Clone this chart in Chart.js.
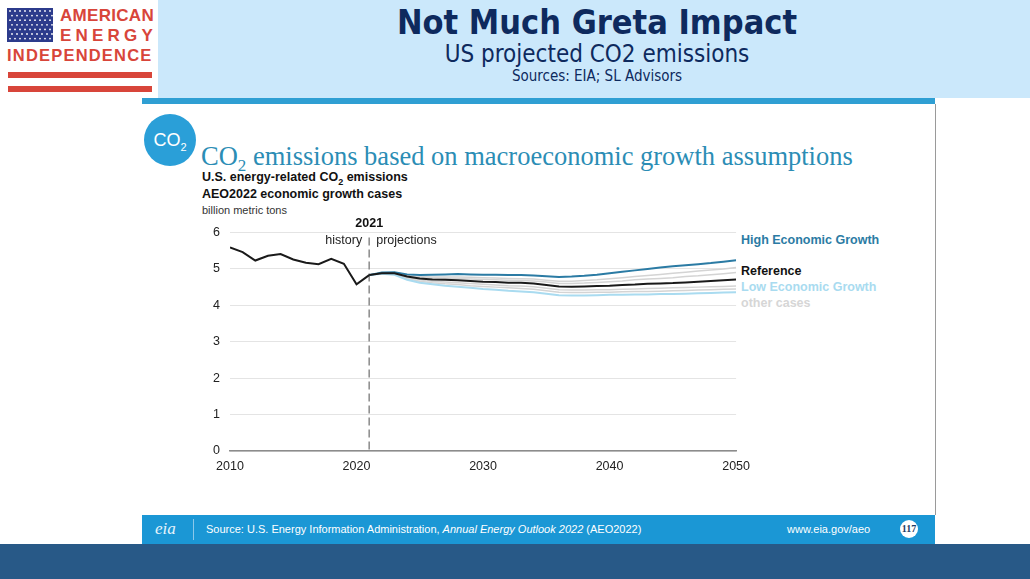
<!DOCTYPE html>
<html>
<head>
<meta charset="utf-8">
<script src="https://cdn.jsdelivr.net/npm/chart.js@4"></script>
<style>
  body { margin:0; width:1030px; height:579px; overflow:hidden; position:relative; background:#fff; font-family:"Liberation Sans", Arial, sans-serif; }
  .abs { position:absolute; white-space:nowrap; }
  #header { left:158px; top:0; width:872px; height:98px; background:#cbe8fb; }
  #bar { left:142px; top:98px; width:793px; height:6px; background:#2f9fd3; }
  #edge { left:935px; top:104px; width:1px; height:411px; background:#9a9a9a; }
  #foot { left:142px; top:515px; width:793px; height:29px; background:#1b97d5; }
  #bottom { left:0; top:544px; width:1030px; height:35px; background:#285987; }
  .hd { font-family:"DejaVu Sans Condensed","DejaVu Sans",sans-serif; font-stretch:condensed; color:#0e2a5e; text-align:center; left:158px; width:878px; }
  .logo { color:#d8453a; font-weight:bold; font-family:"Liberation Sans",Arial,sans-serif; }
  .stripe { left:8px; width:144px; height:6px; background:#d8453a; }
  .lab { font-weight:bold; font-size:12.5px; }
</style>
</head>
<body>
<div class="abs" id="header"></div>
<div class="abs" id="bar"></div>
<div class="abs" id="edge"></div>
<div class="abs" id="foot"></div>
<div class="abs" id="bottom"></div>

<!-- logo -->
<svg class="abs" style="left:7px;top:8px" width="46" height="34">
  <rect width="46" height="34" fill="#2c3b8c"/>
  <g fill="#fff" id="stars"></g>
</svg>
<div class="abs logo" style="left:60px;top:6px;font-size:17px;letter-spacing:0.3px">AMERICAN</div>
<div class="abs logo" style="left:60px;top:26px;font-size:17px;letter-spacing:4.2px">ENERGY</div>
<div class="abs logo" style="left:7px;top:46px;font-size:16.5px;letter-spacing:1.2px">INDEPENDENCE</div>
<div class="abs stripe" style="top:72px"></div>
<div class="abs stripe" style="top:86px"></div>

<!-- header titles -->
<div class="abs hd" style="top:2px;font-size:34px;font-weight:bold">Not Much Greta Impact</div>
<div class="abs hd" style="top:40px;font-size:24px">US projected CO2 emissions</div>
<div class="abs hd" style="top:67px;font-size:15px">Sources: EIA; SL Advisors</div>

<!-- slide heading -->
<div class="abs" style="left:144px;top:114px;width:52px;height:52px;border-radius:50%;background:#2a9fd8;color:#fff;font-size:18px;line-height:52px;text-align:center">CO<sub style="font-size:11px">2</sub></div>
<div class="abs" style="left:201px;top:141px;font-family:'Liberation Serif','Times New Roman',serif;font-size:26.5px;color:#2b8db5">CO<sub style="font-size:17px">2</sub> emissions based on macroeconomic growth assumptions</div>
<div class="abs" style="left:202px;top:170px;font-size:12.5px;font-weight:bold;color:#111">U.S. energy-related CO<sub style="font-size:9px">2</sub> emissions</div>
<div class="abs" style="left:202px;top:187px;font-size:12.5px;font-weight:bold;color:#111">AEO2022 economic growth cases</div>
<div class="abs" style="left:202px;top:204px;font-size:11px;color:#333">billion metric tons</div>

<!-- series labels -->
<div class="abs lab" style="left:741px;top:233px;color:#2b7ba4">High Economic Growth</div>
<div class="abs lab" style="left:741px;top:264px;color:#111">Reference</div>
<div class="abs lab" style="left:741px;top:280px;color:#a9dbf0">Low Economic Growth</div>
<div class="abs lab" style="left:741px;top:296px;color:#d6d6d6">other cases</div>

<!-- footer -->
<div class="abs" style="left:155px;top:519px;font-family:'Liberation Serif',serif;font-size:17px;color:#e6f3fb;font-style:italic">eia</div>
<div class="abs" style="left:193px;top:519px;width:1px;height:21px;background:#8cc8ea"></div>
<div class="abs" style="left:206px;top:523px;font-size:11px;color:#fff">Source: U.S. Energy Information Administration, <i>Annual Energy Outlook 2022</i> (AEO2022)</div>
<div class="abs" style="left:787px;top:523px;font-size:11px;color:#fff">www.eia.gov/aeo</div>
<div class="abs" style="left:900px;top:520px;width:18px;height:18px;border-radius:50%;background:#fff;color:#1d3c66;font-family:'Liberation Serif',serif;font-weight:bold;font-size:10px;line-height:18px;text-align:center">117</div>

<div class="abs" style="left:190px;top:215px;width:568px;height:270px">
  <canvas id="co2"></canvas>
</div>

<script>
// stars on the logo flag
(function () {
  var g = document.getElementById('stars'), s = '';
  for (var r = 0; r < 7; r++) for (var c = 0; c < 9; c++)
    s += '<circle cx="' + (3 + c * 5 + (r % 2) * 2) + '" cy="' + (3 + r * 4.6) + '" r="0.9"/>';
  g.innerHTML = s;
})();

const histYears = [2010, 2011, 2012, 2013, 2014, 2015, 2016, 2017, 2018, 2019, 2020, 2021];
const history = [5.59, 5.46, 5.23, 5.36, 5.41, 5.26, 5.17, 5.13, 5.28, 5.14, 4.58, 4.83];

const projYears = [2021, 2022, 2023, 2024, 2025, 2026, 2027, 2028, 2029, 2030,
                   2031, 2032, 2033, 2034, 2035, 2036, 2037, 2038, 2039, 2040,
                   2041, 2042, 2043, 2044, 2045, 2046, 2047, 2048, 2049, 2050];
const reference = [4.83, 4.88, 4.88, 4.79, 4.74, 4.71, 4.70, 4.69, 4.67, 4.65,
                   4.64, 4.62, 4.62, 4.60, 4.56, 4.52, 4.51, 4.52, 4.53, 4.54,
                   4.56, 4.57, 4.59, 4.60, 4.61, 4.63, 4.65, 4.67, 4.69, 4.71];
const highGrowth = [4.83, 4.90, 4.91, 4.85, 4.83, 4.84, 4.85, 4.86, 4.85, 4.84,
                    4.84, 4.83, 4.83, 4.82, 4.80, 4.78, 4.79, 4.81, 4.84, 4.88,
                    4.92, 4.96, 5.00, 5.04, 5.07, 5.10, 5.13, 5.16, 5.20, 5.24];
const lowGrowth = [4.83, 4.87, 4.84, 4.70, 4.62, 4.58, 4.54, 4.51, 4.48, 4.45,
                   4.43, 4.40, 4.38, 4.36, 4.32, 4.28, 4.27, 4.27, 4.28, 4.29,
                   4.29, 4.30, 4.30, 4.31, 4.31, 4.32, 4.33, 4.34, 4.35, 4.36];
const otherA = [4.83, 4.89, 4.90, 4.83, 4.79, 4.78, 4.78, 4.78, 4.77, 4.76,
                4.75, 4.74, 4.73, 4.72, 4.69, 4.66, 4.66, 4.68, 4.70, 4.73,
                4.76, 4.79, 4.82, 4.85, 4.88, 4.91, 4.94, 4.97, 5.00, 5.04];
const otherB = [4.83, 4.89, 4.89, 4.81, 4.77, 4.75, 4.74, 4.73, 4.72, 4.71,
                4.70, 4.69, 4.68, 4.67, 4.64, 4.60, 4.60, 4.61, 4.63, 4.65,
                4.67, 4.70, 4.72, 4.74, 4.76, 4.79, 4.81, 4.84, 4.87, 4.90];
const otherC = [4.83, 4.87, 4.86, 4.76, 4.70, 4.66, 4.64, 4.62, 4.60, 4.58,
                4.56, 4.54, 4.53, 4.51, 4.47, 4.43, 4.42, 4.42, 4.43, 4.43,
                4.44, 4.45, 4.46, 4.47, 4.48, 4.49, 4.50, 4.51, 4.52, 4.53];
const otherD = [4.83, 4.87, 4.85, 4.73, 4.66, 4.62, 4.59, 4.57, 4.54, 4.52,
                4.50, 4.48, 4.46, 4.44, 4.40, 4.36, 4.35, 4.35, 4.36, 4.36,
                4.37, 4.38, 4.38, 4.39, 4.40, 4.41, 4.42, 4.43, 4.44, 4.45];

const xTicks = [2010, 2020, 2030, 2040, 2050];
const splitYear = 2021;

function pts(xs, ys) { return xs.map((x, i) => ({ x: x, y: ys[i] })); }

function line(data, color, width, order) {
  return { data: data, borderColor: color, borderWidth: width, pointRadius: 0,
           fill: false, tension: 0, order: order };
}

const splitPlugin = {
  id: 'split',
  beforeDatasetsDraw(chart) {
    const ctx = chart.ctx, a = chart.chartArea;
    const x = chart.scales.x.getPixelForValue(splitYear);
    ctx.save();
    ctx.strokeStyle = '#8a8a8a';
    ctx.lineWidth = 1.5;
    ctx.setLineDash([8, 4]);
    ctx.beginPath();
    ctx.moveTo(x, a.top + 5);
    ctx.lineTo(x, a.bottom);
    ctx.stroke();
    ctx.restore();
  },
  afterDraw(chart) {
    const ctx = chart.ctx, a = chart.chartArea;
    const x = chart.scales.x.getPixelForValue(splitYear);
    ctx.save();
    ctx.fillStyle = '#111';
    ctx.textBaseline = 'middle';
    ctx.textAlign = 'center';
    ctx.font = 'bold 12.5px "Liberation Sans", Arial, sans-serif';
    ctx.fillText(String(splitYear), x, a.top - 9);
    ctx.font = '12.5px "Liberation Sans", Arial, sans-serif';
    ctx.fillStyle = '#222';
    ctx.textAlign = 'right';
    ctx.fillText('history', x - 7, a.top + 8);
    ctx.textAlign = 'left';
    ctx.fillText('projections', x + 7, a.top + 8);
    ctx.restore();
  }
};

new Chart(document.getElementById('co2'), {
  type: 'line',
  data: {
    datasets: [
      line(pts(histYears, history), '#1a1a1a', 2, 0),
      line(pts(projYears, reference), '#1a1a1a', 2, 1),
      line(pts(projYears, highGrowth), '#2b7ba4', 2, 2),
      line(pts(projYears, lowGrowth), '#a9dbf0', 2, 3),
      line(pts(projYears, otherA), '#d4d4d4', 1.5, 4),
      line(pts(projYears, otherB), '#d4d4d4', 1.5, 5),
      line(pts(projYears, otherC), '#d4d4d4', 1.5, 6),
      line(pts(projYears, otherD), '#d4d4d4', 1.5, 7)
    ]
  },
  options: {
    responsive: true,
    maintainAspectRatio: false,
    animation: false,
    layout: { padding: { top: 16, right: 0, left: 0, bottom: 0 } },
    plugins: { legend: { display: false }, tooltip: { enabled: false } },
    scales: {
      x: {
        type: 'linear', min: 2010, max: 2050,
        afterBuildTicks: s => { s.ticks = xTicks.map(v => ({ value: v })); },
        afterFit: s => { s.height = 34; },
        grid: { display: false, drawTicks: false },
        border: { display: true, color: '#8c8c8c', width: 1.5 },
        ticks: { padding: 8, color: '#222', maxRotation: 0,
                 font: { size: 12.5, family: '"Liberation Sans", Arial, sans-serif' },
                 callback: v => String(v) }
      },
      y: {
        min: 0, max: 6,
        afterFit: s => { s.width = 40; },
        grid: { color: '#e4e4e4', drawTicks: false },
        border: { display: false },
        ticks: { stepSize: 1, padding: 10, color: '#222',
                 font: { size: 12.5, family: '"Liberation Sans", Arial, sans-serif' } }
      }
    }
  },
  plugins: [splitPlugin]
});
</script>
</body>
</html>
